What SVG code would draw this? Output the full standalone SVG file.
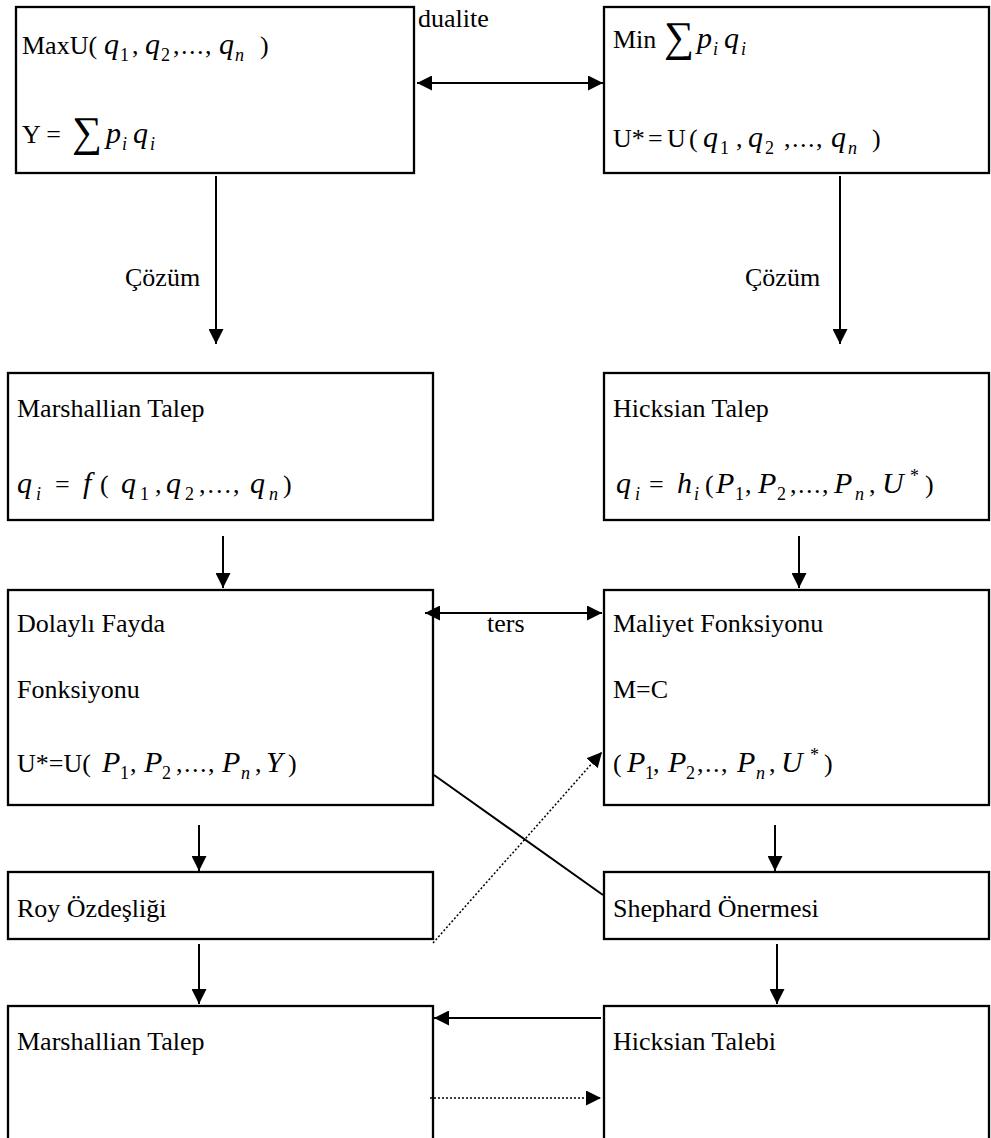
<svg xmlns="http://www.w3.org/2000/svg" width="991" height="1138" viewBox="0 0 991 1138">
<style>
.box{fill:#fff;stroke:#000;stroke-width:2.3}
text{font-family:'Liberation Serif','DejaVu Serif','Times New Roman',serif;font-size:26px;fill:#000}
.m{font-style:italic;font-size:30px}
.s{font-size:18px}
.si{font-size:18px;font-style:italic}
.sig{font-size:42px}
.c{stroke:#000;stroke-width:2;fill:none}
.d{stroke:#000;stroke-width:1.5;fill:none;stroke-dasharray:2 2}
</style>
<defs>
<marker id="ah" markerUnits="userSpaceOnUse" markerWidth="16" markerHeight="15" refX="15" refY="7.5" orient="auto-start-reverse">
<path d="M0,0 L15,7.5 L0,15 Z" fill="#000"/>
</marker>
</defs>
<rect width="991" height="1138" fill="#fff"/>
<g font-family="Liberation Serif, DejaVu Serif, serif">

<g id="n1">
<rect class="box" x="16" y="7" width="398" height="166"/>
<text y="54"><tspan x="22">MaxU(</tspan><tspan class="m" x="104">q</tspan><tspan class="s" x="120" y="61">1</tspan><tspan x="132" y="54">,</tspan><tspan class="m" x="145">q</tspan><tspan class="s" x="161" y="61">2</tspan><tspan x="173" y="54" letter-spacing="1.5">,...,</tspan><tspan class="m" x="219">q</tspan><tspan class="si" x="235" y="61">n</tspan><tspan x="260" y="54">)</tspan></text>
<text y="143"><tspan x="22">Y =</tspan><tspan class="sig" x="72" y="146">∑</tspan><tspan class="m" x="106" y="143">p</tspan><tspan class="si" x="122" y="150">i</tspan><tspan class="m" x="133" y="143">q</tspan><tspan class="si" x="150" y="150">i</tspan></text>
</g>

<g id="n2">
<rect class="box" x="604" y="7" width="385" height="166"/>
<text y="48"><tspan x="613">Min</tspan><tspan class="sig" x="664" y="51">∑</tspan><tspan class="m" x="697" y="48">p</tspan><tspan class="si" x="713" y="55">i</tspan><tspan class="m" x="724" y="48">q</tspan><tspan class="si" x="741" y="55">i</tspan></text>
<text y="147"><tspan x="613">U*</tspan><tspan x="648">=</tspan><tspan x="667">U</tspan><tspan x="689">(</tspan><tspan class="m" x="703">q</tspan><tspan class="s" x="720" y="154">1</tspan><tspan x="736" y="147">,</tspan><tspan class="m" x="748">q</tspan><tspan class="s" x="765" y="154">2</tspan><tspan x="784" y="147" letter-spacing="1.5">,...,</tspan><tspan class="m" x="831">q</tspan><tspan class="si" x="848" y="154">n</tspan><tspan x="872" y="147">)</tspan></text>
</g>

<g id="n3">
<rect class="box" x="8" y="373" width="425" height="147"/>
<text x="17" y="417">Marshallian Talep</text>
<text y="493"><tspan class="m" x="17">q</tspan><tspan class="si" x="36" y="500">i</tspan><tspan x="55" y="493">=</tspan><tspan class="m" x="83">f</tspan><tspan x="100">(</tspan><tspan class="m" x="121">q</tspan><tspan class="s" x="140" y="500">1</tspan><tspan x="155" y="493">,</tspan><tspan class="m" x="166">q</tspan><tspan class="s" x="185" y="500">2</tspan><tspan x="199" y="493" letter-spacing="2">,...,</tspan><tspan class="m" x="250">q</tspan><tspan class="si" x="269" y="500">n</tspan><tspan x="283" y="493">)</tspan></text>
</g>

<g id="n4">
<rect class="box" x="604" y="373" width="385" height="147"/>
<text x="613" y="417">Hicksian Talep</text>
<text y="493"><tspan class="m" x="616">q</tspan><tspan class="si" x="635" y="500">i</tspan><tspan x="649" y="493">=</tspan><tspan class="m" x="677">h</tspan><tspan class="si" x="694" y="500">i</tspan><tspan x="705" y="493">(</tspan><tspan class="m" x="716">P</tspan><tspan class="s" x="735" y="500">1</tspan><tspan x="745" y="493">,</tspan><tspan class="m" x="758">P</tspan><tspan class="s" x="777" y="500">2</tspan><tspan x="790" y="493" letter-spacing="1.5">,...,</tspan><tspan class="m" x="834">P</tspan><tspan class="si" x="855" y="500">n</tspan><tspan x="869" y="493">,</tspan><tspan class="m" x="882">U</tspan><tspan class="s" x="910" y="482">*</tspan><tspan x="925" y="493">)</tspan></text>
</g>

<g id="n5">
<rect class="box" x="8" y="590" width="425" height="215"/>
<text x="17" y="632">Dolaylı Fayda</text>
<text x="17" y="698">Fonksiyonu</text>
<text y="772"><tspan x="17">U*=U(</tspan><tspan class="m" x="102">P</tspan><tspan class="s" x="120" y="779">1</tspan><tspan x="130" y="772">,</tspan><tspan class="m" x="144">P</tspan><tspan class="s" x="162" y="779">2</tspan><tspan x="176" y="772" letter-spacing="1.5">,...,</tspan><tspan class="m" x="222">P</tspan><tspan class="si" x="241" y="779">n</tspan><tspan x="255" y="772">,</tspan><tspan class="m" x="266">Y</tspan><tspan x="288">)</tspan></text>
</g>

<g id="n6">
<rect class="box" x="604" y="590" width="385" height="215"/>
<text x="613" y="632">Maliyet Fonksiyonu</text>
<text x="613" y="698">M=C</text>
<text y="772"><tspan x="613">(</tspan><tspan class="m" x="627">P</tspan><tspan class="s" x="645" y="779">1</tspan><tspan x="653" y="772">,</tspan><tspan class="m" x="668">P</tspan><tspan class="s" x="686" y="779">2</tspan><tspan x="697" y="772" letter-spacing="1.5">,..,</tspan><tspan class="m" x="737">P</tspan><tspan class="si" x="756" y="779">n</tspan><tspan x="769" y="772">,</tspan><tspan class="m" x="781">U</tspan><tspan class="s" x="810" y="761">*</tspan><tspan x="824" y="772">)</tspan></text>
</g>

<g id="n7">
<rect class="box" x="8" y="872" width="425" height="67"/>
<text x="17" y="917">Roy Özdeşliği</text>
</g>

<g id="n8">
<rect class="box" x="604" y="872" width="385" height="67"/>
<text x="613" y="917">Shephard Önermesi</text>
</g>

<g id="n9">
<rect class="box" x="8" y="1006" width="425" height="150"/>
<text x="17" y="1050">Marshallian Talep</text>
</g>

<g id="n10">
<rect class="box" x="604" y="1006" width="385" height="150"/>
<text x="613" y="1050">Hicksian Talebi</text>
</g>

<g id="connectors">
<line class="c" x1="417" y1="83" x2="603" y2="83" marker-start="url(#ah)" marker-end="url(#ah)"/>
<text x="418" y="27">dualite</text>
<line class="c" x1="216" y1="176" x2="216" y2="344" marker-end="url(#ah)"/>
<text x="125" y="286">Çözüm</text>
<line class="c" x1="840" y1="176" x2="840" y2="344" marker-end="url(#ah)"/>
<text x="745" y="286">Çözüm</text>
<line class="c" x1="223" y1="536" x2="223" y2="588" marker-end="url(#ah)"/>
<line class="c" x1="799" y1="536" x2="799" y2="588" marker-end="url(#ah)"/>
<line class="c" x1="425" y1="613" x2="602" y2="613" marker-start="url(#ah)" marker-end="url(#ah)"/>
<text x="487" y="632">ters</text>
<line class="c" x1="199" y1="825" x2="199" y2="871" marker-end="url(#ah)"/>
<line class="c" x1="775" y1="825" x2="775" y2="871" marker-end="url(#ah)"/>
<line class="c" x1="199" y1="944" x2="199" y2="1004" marker-end="url(#ah)"/>
<line class="c" x1="777" y1="944" x2="777" y2="1004" marker-end="url(#ah)"/>
<line class="c" x1="434" y1="775" x2="603" y2="895"/>
<line class="d" x1="433" y1="943" x2="602" y2="752" marker-end="url(#ah)"/>
<line class="c" x1="601" y1="1018" x2="434" y2="1018" marker-end="url(#ah)"/>
<line class="d" x1="430" y1="1098" x2="601" y2="1098" marker-end="url(#ah)"/>
</g>
</g>
</svg>
